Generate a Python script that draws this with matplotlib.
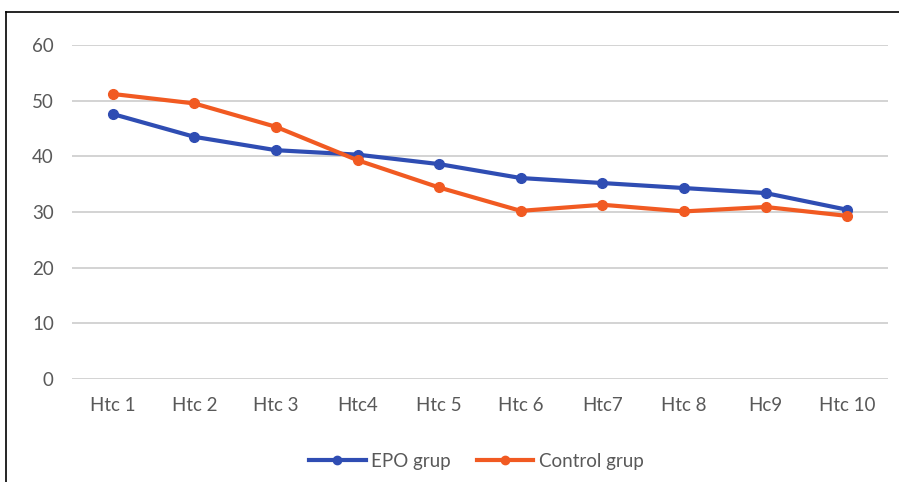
import matplotlib
matplotlib.use('Agg')
import matplotlib.pyplot as plt
from matplotlib.lines import Line2D

plt.rcParams['font.family'] = ['Lato', 'DejaVu Sans']

categories = ['Htc 1', 'Htc 2', 'Htc 3', 'Htc4', 'Htc 5', 'Htc 6', 'Htc7', 'Htc 8', 'Hc9', 'Htc 10']
epo = [47.6, 43.5, 41.1, 40.3, 38.6, 36.1, 35.2, 34.3, 33.4, 30.4]
control = [51.2, 49.5, 45.3, 39.3, 34.4, 30.2, 31.3, 30.1, 30.9, 29.3]

blue = '#2f4db3'
orange = '#f15a22'
grey_txt = '#595959'

fig = plt.figure(figsize=(8.99, 4.82), dpi=100)
ax = fig.add_axes([0.080, 0.2137, 0.9077, 0.693])

x = range(len(categories))
ax.plot(x, epo, color=blue, lw=3.0, marker='o', ms=7, label='EPO grup', zorder=3)
ax.plot(x, control, color=orange, lw=3.0, marker='o', ms=7, label='Control grup', zorder=4)

ax.set_xlim(-0.5, len(categories) - 0.5)
ax.set_ylim(0, 60)
ax.set_yticks(range(0, 61, 10))
ax.set_xticks(list(x))
ax.set_xticklabels(categories)
ax.yaxis.grid(True, color='#d0d0d0', lw=1.3)
ax.set_axisbelow(True)
for s in ax.spines.values():
    s.set_visible(False)
ax.tick_params(length=0, labelsize=13.5, colors=grey_txt)
ax.tick_params(axis='y', pad=13)
ax.tick_params(axis='x', pad=13)

leg = fig.legend(handles=[Line2D([], [], color=blue, lw=3.0, marker='o', ms=6),
                          Line2D([], [], color=orange, lw=3.0, marker='o', ms=6)],
                 labels=['EPO grup', 'Control grup'], loc='center',
                 bbox_to_anchor=(0.53, 0.043), ncol=2, frameon=False,
                 fontsize=13.5, handlelength=3.0, columnspacing=1.4, handletextpad=0.3)
for t in leg.get_texts():
    t.set_color(grey_txt)

# border of the original chart box (top and left visible)
fig.add_artist(Line2D([6 / 899, 1], [1 - 12 / 482, 1 - 12 / 482], color='black', lw=1.2, transform=fig.transFigure))
fig.add_artist(Line2D([6 / 899, 6 / 899], [0, 1 - 12 / 482], color='black', lw=1.2, transform=fig.transFigure))

fig.savefig('out.png', dpi=100)
